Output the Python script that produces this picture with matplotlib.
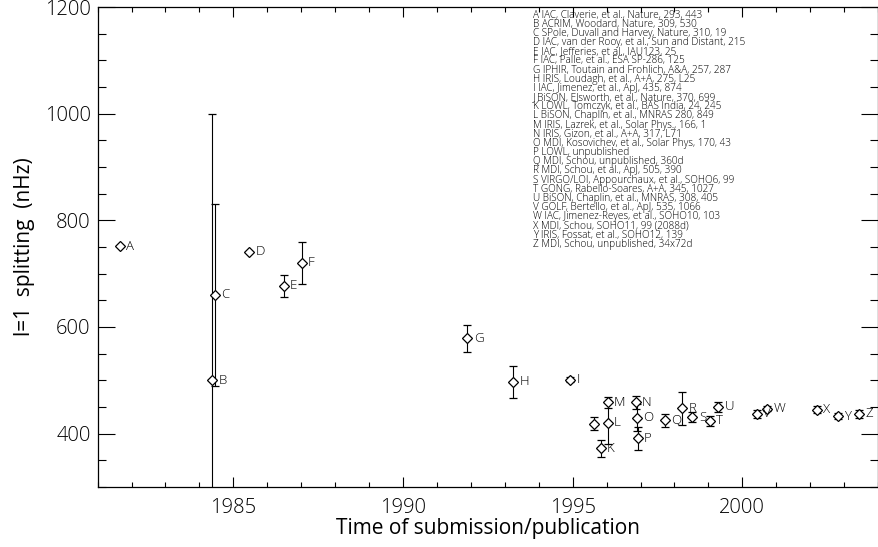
import matplotlib
matplotlib.use("Agg")
import matplotlib.pyplot as plt
from matplotlib.ticker import MultipleLocator

plt.rcParams['font.family'] = ['Open Sans', 'DejaVu Sans']
plt.rcParams['font.weight'] = 'light'

# one entry per reference, letters A..Z
letters = list("ABCDEFGHIJKLMNOPQRSTUVWXYZ")
years = [1981.65, 1984.37, 1984.47, 1985.47, 1986.48, 1987.02, 1991.90, 1993.25,
         1994.93, 1995.62, 1995.82, 1996.03, 1996.03, 1996.86, 1996.89, 1996.92,
         1997.73, 1998.22, 1998.53, 1999.04, 1999.29, 2000.42, 2000.74, 2002.20,
         2002.82, 2003.45]
splitting = [751, 500, 660, 741, 677, 720, 579, 497, 501, 419, 373, 420, 459, 459,
             430, 391, 425, 448, 431, 424, 450, 437, 447, 445, 433, 437]
errors = [0, 500, 170, 0, 20, 40, 25, 30, 5, 13, 16, 40, 10, 12, 25, 22, 12, 31,
          10, 9, 9, 8, 5, 6, 5, 7]
show_label = [l != "J" for l in letters]

refs = [
    "A IAC, Claverie, et al., Nature, 293, 443",
    "B ACRIM, Woodard, Nature, 309, 530",
    "C SPole, Duvall and Harvey, Nature, 310, 19",
    "D IAC, van der Rooy, et al., Sun and Distant, 215",
    "E IAC, Jefferies, et al., IAU123, 25",
    "F IAC, Palle, et al., ESA SP-286, 125",
    "G IPHIR, Toutain and Frohlich, A&A, 257, 287",
    "H IRIS, Loudagh, et al., A+A, 275, L25",
    "I IAC, Jimenez, et al., ApJ, 435, 874",
    "J BiSON, Elsworth, et al., Nature, 370, 699",
    "K LOWL, Tomczyk, et al., BAS India, 24, 245",
    "L BiSON, Chaplin, et al., MNRAS 280, 849",
    "M IRIS, Lazrek, et al., Solar Phys., 166, 1",
    "N IRIS, Gizon, et al., A+A, 317, L71",
    "O MDI, Kosovichev, et al., Solar Phys, 170, 43",
    "P LOWL, unpublished",
    "Q MDI, Schou, unpublished, 360d",
    "R MDI, Schou, et al., ApJ, 505, 390",
    "S VIRGO/LOI, Appourchaux, et al., SOHO6, 99",
    "T GONG, Rabello-Soares, A+A, 345, 1027",
    "U BiSON, Chaplin, et al., MNRAS, 308, 405",
    "V GOLF, Bertello, et al., ApJ, 535, 1066",
    "W IAC, Jimenez-Reyes, et al., SOHO10, 103",
    "X MDI, Schou, SOHO11, 99 (2088d)",
    "Y IRIS, Fossat, et al., SOHO12, 139",
    "Z MDI, Schou, unpublished, 34x72d",
]

fig = plt.figure(figsize=(8.79, 5.47), dpi=100)
ax = fig.add_axes([0.111, 0.1097, 0.888, 0.8775])

ax.errorbar(years, splitting, yerr=errors, fmt='D', ms=5.5, mfc='white', mec='black',
            mew=0.9, ecolor='black', elinewidth=0.8, capsize=3, capthick=0.8)

for x, y, lab, show in zip(years, splitting, letters, show_label):
    if show:
        ax.annotate(lab, (x, y), xytext=(4.5, 0), textcoords='offset points',
                    fontsize=9.5, va='center', ha='left')

# reference list in the upper right, one line per entry
for i, line in enumerate(refs):
    ax.text(0.5576, 1 - (8 + 9.17 * i) / 480, line, transform=ax.transAxes,
            fontsize=7.2, va='center', ha='left')

ax.set_xlim(1981, 2004)
ax.set_ylim(300, 1200)
ax.xaxis.set_major_locator(MultipleLocator(5))
ax.xaxis.set_minor_locator(MultipleLocator(1))
ax.yaxis.set_major_locator(MultipleLocator(200))
ax.yaxis.set_minor_locator(MultipleLocator(50))
ax.set_yticks([400, 600, 800, 1000, 1200])

ax.tick_params(axis='both', which='both', direction='in', top=True, right=True,
               width=0.8, labelsize=14.5)
ax.tick_params(axis='y', which='major', length=12, pad=5)
ax.tick_params(axis='y', which='minor', length=6)
ax.tick_params(axis='x', which='major', length=7, pad=8)
ax.tick_params(axis='x', which='minor', length=3.5)
for s in ax.spines.values():
    s.set_linewidth(0.9)

ax.set_xlabel("Time of submission/publication", fontsize=15, labelpad=0)
ax.set_ylabel("l=1  splitting  (nHz)", fontsize=15, labelpad=7)

fig.savefig("out.png", dpi=100)
